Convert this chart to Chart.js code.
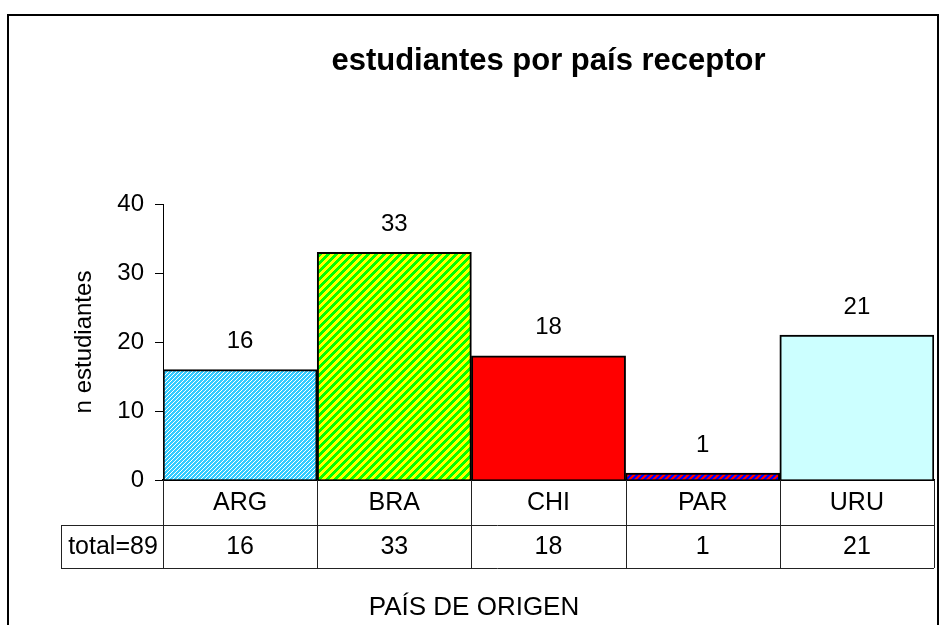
<!DOCTYPE html>
<html>
<head>
<meta charset="utf-8">
<script src="https://cdn.jsdelivr.net/npm/chart.js@4"></script>
<style>
  html, body { margin: 0; padding: 0; background: #fff; }
  #wrap { width: 939px; height: 625px; position: relative; }
</style>
</head>
<body>
<div id="wrap"><canvas id="grafica"></canvas></div>
<script>
// datos
const paises = ['ARG', 'BRA', 'CHI', 'PAR', 'URU'];
const estudiantes = [16, 33, 18, 1, 21];
const ticksY = [0, 10, 20, 30, 40];
const titulo = 'estudiantes por país receptor';
const tituloY = 'n estudiantes';
const tituloX = 'PAÍS DE ORIGEN';

const fuente = '"Liberation Sans", Arial, sans-serif';

// tramas de relleno estilo excel
function trama(size, fn) {
    const c = document.createElement('canvas');
    c.width = size; c.height = size;
    const g = c.getContext('2d');
    for (let x = 0; x < size; x++) {
        for (let y = 0; y < size; y++) {
            g.fillStyle = fn(x, y);
            g.fillRect(x, y, 1, 1);
        }
    }
    return g.createPattern(c, 'repeat');
}
const rellenos = [
    trama(4, (x, y) => ((x + y) % 4 === 3 ? '#ffffff' : '#33ccff')),
    trama(8, (x, y) => ((x + y) % 8 < 4 ? '#ffff00' : '#00ff00')),
    '#ff0000',
    trama(6, (x, y) => ((x + y) % 6 < 3 ? '#0000ff' : '#ff0000')),
    '#ccffff'
];

const marcoYTabla = {
    id: 'marcoYTabla',
    beforeDraw(chart) {
        const ctx = chart.ctx;
        ctx.save();
        ctx.strokeStyle = '#000';
        ctx.lineWidth = 2;
        ctx.beginPath();
        ctx.moveTo(8, 625); ctx.lineTo(8, 15); ctx.lineTo(938, 15); ctx.lineTo(938, 625);
        ctx.stroke();
        ctx.restore();
    },
    afterDraw(chart) {
        const ctx = chart.ctx;
        const xs = chart.scales.x;
        const area = chart.chartArea;
        const paso = xs.getPixelForValue(1) - xs.getPixelForValue(0);
        const yFila = area.bottom + 45;
        const yFin = area.bottom + 88;
        ctx.save();
        // titulo
        ctx.fillStyle = '#000';
        ctx.font = 'bold 31px ' + fuente;
        ctx.textAlign = 'center';
        ctx.textBaseline = 'alphabetic';
        ctx.fillText(titulo, (area.left + area.right) / 2, 70);

        // titulo eje x (centrado en el lienzo)
        ctx.font = '26px ' + fuente;
        ctx.textBaseline = 'middle';
        ctx.fillText(tituloX, 474, 608);

        // valores sobre las barras
        ctx.font = '24px ' + fuente;
        const meta = chart.getDatasetMeta(0);
        meta.data.forEach((bar, i) => {
            ctx.fillText(String(estudiantes[i]), bar.x, bar.y - 28);
        });

        // tabla de datos
        ctx.strokeStyle = '#222';
        ctx.lineWidth = 1;
        ctx.beginPath();
        for (let i = 0; i <= paises.length; i++) {
            const x = Math.round(xs.getPixelForValue(0) - paso / 2 + i * paso) + 0.5;
            ctx.moveTo(x, area.bottom); ctx.lineTo(x, yFin);
        }
        ctx.moveTo(61.5, yFila); ctx.lineTo(61.5, yFin);
        ctx.moveTo(61, yFila + 0.5); ctx.lineTo(area.right, yFila + 0.5);
        ctx.moveTo(61, yFin + 0.5); ctx.lineTo(area.right, yFin + 0.5);
        ctx.stroke();

        const total = estudiantes.reduce((a, b) => a + b, 0);
        const yTexto = (yFila + yFin) / 2 + 1;
        ctx.font = '25px ' + fuente;
        ctx.fillText('total=' + total, (61 + area.left) / 2 + 1, yTexto);
        estudiantes.forEach((v, i) => {
            ctx.fillText(String(v), xs.getPixelForValue(i), yTexto);
        });
        ctx.restore();
    }
};

new Chart(document.getElementById('grafica'), {
    type: 'bar',
    data: {
        labels: paises,
        datasets: [{
            data: estudiantes,
            backgroundColor: rellenos,
            borderColor: '#000',
            borderWidth: 2,
            barPercentage: 1,
            categoryPercentage: 1
        }]
    },
    options: {
        responsive: true,
        maintainAspectRatio: false,
        animation: false,
        layout: { padding: { top: 204, right: 5, left: 0, bottom: 0 } },
        plugins: {
            legend: { display: false },
            tooltip: { enabled: false }
        },
        scales: {
            x: {
                grid: { display: false, drawTicks: false },
                border: { color: '#000', width: 2 },
                ticks: { color: '#000', padding: 8, font: { family: fuente, size: 25 } },
                afterFit: function (scale) { scale.height = 145; }
            },
            y: {
                min: 0,
                max: 40,
                afterBuildTicks: function (scale) {
                    scale.ticks = ticksY.map(v => ({ value: v }));
                },
                grid: { drawOnChartArea: false, drawTicks: true, tickLength: 8, color: '#000' },
                border: { color: '#000', width: 1 },
                ticks: { color: '#000', padding: 11, font: { family: fuente, size: 24 } },
                title: {
                    display: true,
                    text: tituloY,
                    color: '#000',
                    font: { family: fuente, size: 24 },
                    padding: { top: 70, bottom: 0 }
                },
                afterFit: function (scale) { scale.width = 163; }
            }
        }
    },
    plugins: [marcoYTabla]
});
</script>
</body>
</html>
